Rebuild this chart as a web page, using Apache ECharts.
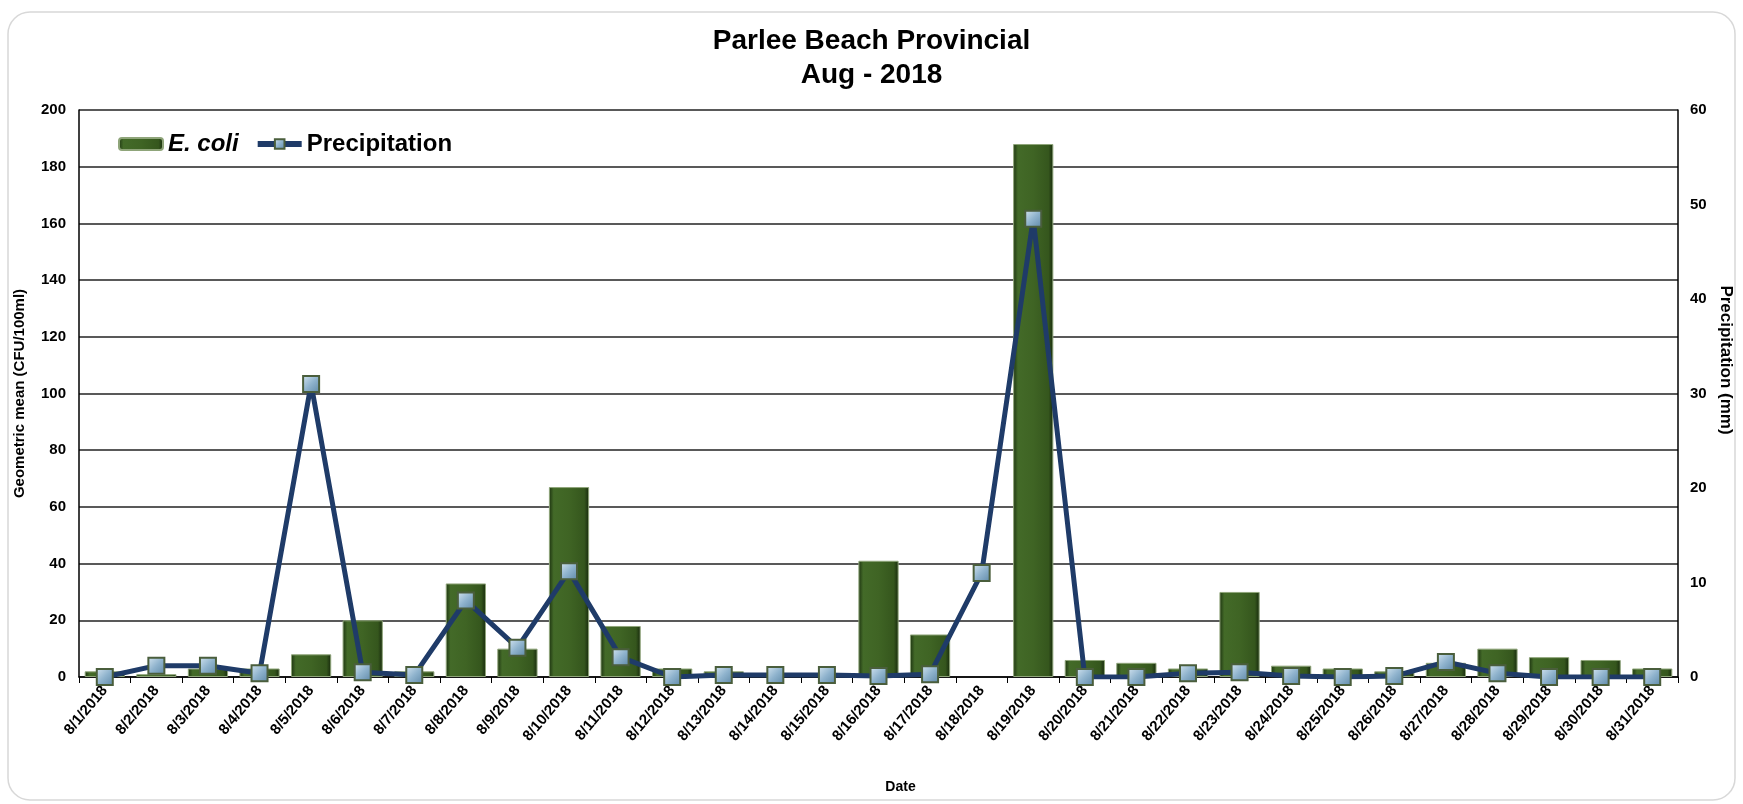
<!DOCTYPE html>
<html>
<head>
<meta charset="utf-8">
<title>Parlee Beach Provincial</title>
<script src="https://cdn.jsdelivr.net/npm/echarts@6/dist/echarts.min.js"></script>
<style>
  html, body { margin: 0; padding: 0; background: #fff; }
  #chart { width: 1743px; height: 804px; }
</style>
</head>
<body>
<div id="chart"></div>
<script>
// categories
var dates = ['8/1/2018','8/2/2018','8/3/2018','8/4/2018','8/5/2018','8/6/2018','8/7/2018','8/8/2018',
  '8/9/2018','8/10/2018','8/11/2018','8/12/2018','8/13/2018','8/14/2018','8/15/2018','8/16/2018',
  '8/17/2018','8/18/2018','8/19/2018','8/20/2018','8/21/2018','8/22/2018','8/23/2018','8/24/2018',
  '8/25/2018','8/26/2018','8/27/2018','8/28/2018','8/29/2018','8/30/2018','8/31/2018'];
// geometric mean E. coli (CFU/100ml), left axis
var ecoli = [2, 1, 3, 3, 8, 20, 2, 33, 10, 67, 18, 3, 2, 1, 1, 41,
  15, null, 188, 6, 5, 3, 30, 4, 3, 2, 5, 10, 7, 6, 3];
// precipitation (mm), right axis
var precip = [0, 1.2, 1.2, 0.4, 31, 0.5, 0.2, 8.1, 3.1, 11.2, 2.1, 0, 0.2, 0.2, 0.2, 0.1,
  0.3, 11, 48.5, 0, 0, 0.4, 0.5, 0.1, 0, 0.1, 1.6, 0.4, 0, 0, 0];
var leftTicks = { min: 0, max: 200, interval: 20 };
var rightTicks = { min: 0, max: 60, interval: 10 };

var font = 'Liberation Sans, Arial, sans-serif';
var myChart = echarts.init(document.getElementById('chart'));

/** bar fill: dark green with darker edges (bevel look) */
var barFill = new echarts.graphic.LinearGradient(0, 0, 1, 0, [
  { offset: 0, color: '#1c3210' },
  { offset: 0.12, color: '#436a28' },
  { offset: 0.5, color: '#3f6424' },
  { offset: 0.88, color: '#35561d' },
  { offset: 1, color: '#16280c' }
]);
var markerFill = new echarts.graphic.LinearGradient(0, 0, 1, 1, [
  { offset: 0, color: '#d6e6f1' },
  { offset: 0.5, color: '#8fb3cd' },
  { offset: 1, color: '#5d87a6' }
]);

var option = {
  backgroundColor: '#fff',
  animation: false,
  title: {
    text: 'Parlee Beach Provincial\nAug - 2018',
    left: 'center',
    top: 19,
    textStyle: { fontFamily: font, fontSize: 28, fontWeight: 'bold', color: '#000', lineHeight: 34 }
  },
  legend: {
    left: 113,
    top: 127,
    itemWidth: 44,
    itemHeight: 12,
    itemGap: 16,
    textStyle: { fontFamily: font, fontSize: 24, fontWeight: 'bold', color: '#000' },
    data: [
      { name: 'E. coli', textStyle: { fontStyle: 'italic' } },
      { name: 'Precipitation', lineStyle: { width: 6, color: '#1f3b68' } }
    ]
  },
  grid: { left: 79, right: 65, top: 110, bottom: 127 },
  xAxis: {
    type: 'category',
    data: dates,
    name: 'Date',
    nameLocation: 'middle',
    nameGap: 103,
    nameTextStyle: { fontFamily: font, fontSize: 14, fontWeight: 'bold', color: '#000', padding: [0, 0, 0, 44] },
    axisLine: { lineStyle: { color: '#000', width: 1.5 } },
    axisTick: { show: true, length: 6, lineStyle: { color: '#000' } },
    axisLabel: { rotate: 50, margin: 11, fontFamily: font, fontSize: 15, fontWeight: 'bold', color: '#000' }
  },
  yAxis: [
    {
      type: 'value',
      min: leftTicks.min, max: leftTicks.max, interval: leftTicks.interval,
      name: 'Geometric mean (CFU/100ml)',
      nameLocation: 'middle',
      nameGap: 52,
      nameTextStyle: { fontFamily: font, fontSize: 15, fontWeight: 'bold', color: '#000' },
      axisLine: { show: true, lineStyle: { color: '#000', width: 1.5 } },
      axisTick: { show: false },
      splitLine: { lineStyle: { color: '#222', width: 1.5 } },
      axisLabel: { margin: 13, fontFamily: font, fontSize: 15, fontWeight: 'bold', color: '#000' }
    },
    {
      type: 'value',
      min: rightTicks.min, max: rightTicks.max, interval: rightTicks.interval,
      axisLine: { show: true, lineStyle: { color: '#000', width: 1.5 } },
      axisTick: { show: false },
      splitLine: { show: false },
      axisLabel: { margin: 12, fontFamily: font, fontSize: 15, fontWeight: 'bold', color: '#000' }
    }
  ],
  series: [
    {
      name: 'E. coli',
      type: 'bar',
      yAxisIndex: 0,
      barCategoryGap: '22%',
      data: ecoli,
      itemStyle: { color: barFill, borderColor: '#8fa57a', borderWidth: 1 }
    },
    {
      name: 'Precipitation',
      type: 'line',
      yAxisIndex: 1,
      data: precip,
      symbol: 'rect',
      symbolSize: 16,
      lineStyle: { color: '#1f3b68', width: 5 },
      itemStyle: { color: markerFill, borderColor: '#4a5e3c', borderWidth: 2 }
    }
  ],
  graphic: [
    {
      type: 'rect',
      shape: { x: 8, y: 12, width: 1727, height: 788, r: 22 },
      style: { fill: 'none', stroke: '#d8d8d8', lineWidth: 1.5 },
      silent: true
    },
    {
      // right axis title, placed a bit above the plot middle as in the original
      type: 'text',
      x: 1726,
      y: 360,
      rotation: -Math.PI / 2,
      style: {
        text: 'Precipitation (mm)',
        font: 'bold 17px Liberation Sans, Arial, sans-serif',
        fill: '#000',
        align: 'center',
        verticalAlign: 'middle'
      },
      silent: true
    }
  ]
};
myChart.setOption(option);
</script>
</body>
</html>
